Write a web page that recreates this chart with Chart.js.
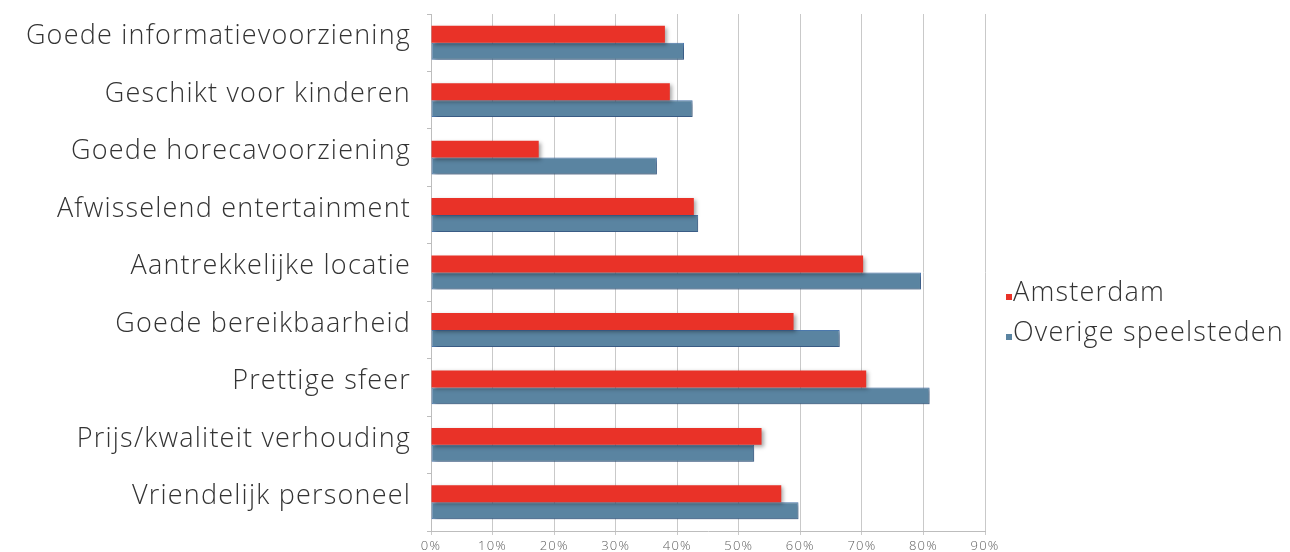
<!DOCTYPE html>
<html>
<head>
<meta charset="utf-8">
<script src="https://cdn.jsdelivr.net/npm/chart.js@4.4.1/dist/chart.umd.min.js"></script>
<style>
  html, body { margin: 0; padding: 0; background: #fff; }
  #wrap { width: 1290px; height: 552px; position: relative; }
</style>
</head>
<body>
<div id="wrap"><canvas id="grafiek"></canvas></div>
<script>
// categorieen van boven naar beneden
const categorieen = [
  'Goede informatievoorziening',
  'Geschikt voor kinderen',
  'Goede horecavoorziening',
  'Afwisselend entertainment',
  'Aantrekkelijke locatie',
  'Goede bereikbaarheid',
  'Prettige sfeer',
  'Prijs/kwaliteit verhouding',
  'Vriendelijk personeel'
];
const amsterdam = [38.0, 38.8, 17.5, 42.7, 70.2, 58.9, 70.7, 53.7, 56.9];
const overige = [41.1, 42.5, 36.7, 43.4, 79.6, 66.4, 81.0, 52.5, 59.7];
const xTicks = [0, 10, 20, 30, 40, 50, 60, 70, 80, 90];

const fontNaam = "'Open Sans', 'Lato', sans-serif";

// iets bredere letters voor alle tekst
const spatiering = {
  id: 'spatiering',
  beforeDraw(chart) {
    chart.ctx.letterSpacing = '1.2px';
  }
};

// zachte schaduw onder de balken
const schaduw = {
  id: 'schaduw',
  beforeDatasetsDraw(chart) {
    const ctx = chart.ctx;
    ctx.save();
    ctx.shadowColor = 'rgba(0,0,0,0.35)';
    ctx.shadowBlur = 4;
    ctx.shadowOffsetX = 2;
    ctx.shadowOffsetY = 2;
  },
  afterDatasetsDraw(chart) {
    chart.ctx.restore();
  }
};

// legenda rechts, klein vierkantje op de basislijn
const legenda = {
  id: 'legenda',
  afterDraw(chart) {
    const ctx = chart.ctx;
    ctx.save();
    ctx.letterSpacing = '1.2px';
    ctx.font = '300 27px ' + fontNaam;
    ctx.textBaseline = 'alphabetic';
    ctx.textAlign = 'left';
    chart.data.datasets.forEach((ds, i) => {
      const y = 301 + i * 40;
      ctx.fillStyle = ds.backgroundColor;
      ctx.fillRect(1006, y - 7, 6, 6);
      ctx.fillStyle = '#333';
      ctx.fillText(ds.label, 1013, y);
    });
    ctx.restore();
  }
};

new Chart(document.getElementById('grafiek'), {
  type: 'bar',
  data: {
    labels: categorieen,
    datasets: [
      {
        label: 'Amsterdam',
        data: amsterdam,
        backgroundColor: '#e93228',
        borderWidth: 0
      },
      {
        label: 'Overige speelsteden',
        data: overige,
        backgroundColor: '#5a84a1',
        borderColor: '#4f7db5',
        borderWidth: 1,
        borderSkipped: false
      }
    ]
  },
  options: {
    indexAxis: 'y',
    responsive: true,
    maintainAspectRatio: false,
    animation: false,
    categoryPercentage: 0.59,
    barPercentage: 1.0,
    layout: { padding: { left: 0, right: 305, top: 14, bottom: 0 } },
    plugins: {
      legend: { display: false },
      tooltip: { enabled: false }
    },
    scales: {
      x: {
        min: 0,
        max: 90,
        afterBuildTicks(scale) {
          scale.ticks = xTicks.map(v => ({ value: v }));
        },
        afterFit(scale) {
          scale.height = 21;
          scale.paddingLeft = 0;
          scale.paddingRight = 0;
        },
        grid: {
          color: '#c9c9c9',
          lineWidth: 1,
          tickLength: 4
        },
        border: { color: '#bdbdbd' },
        ticks: {
          padding: 3,
          color: '#5e5e5e',
          font: { family: fontNaam, size: 13, weight: 300 },
          callback: v => v + '%'
        }
      },
      y: {
        afterFit(scale) {
          scale.width = 431;
          scale.paddingTop = 0;
          scale.paddingBottom = 0;
        },
        grid: {
          drawOnChartArea: false,
          color: '#bdbdbd',
          tickLength: 4,
          offset: true
        },
        border: { color: '#bdbdbd' },
        ticks: {
          padding: 16,
          labelOffset: -6,
          color: '#333',
          font: { family: fontNaam, size: 27, weight: 300 }
        }
      }
    }
  },
  plugins: [spatiering, schaduw, legenda]
});
</script>
</body>
</html>
